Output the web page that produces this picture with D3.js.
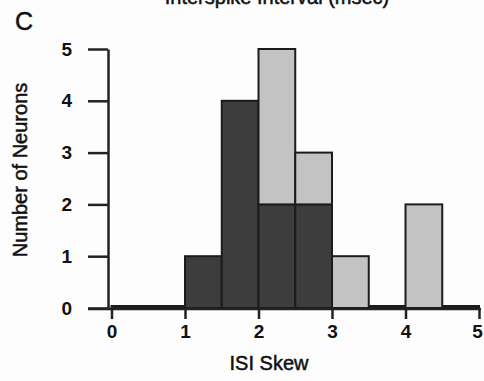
<!DOCTYPE html>
<html>
<head>
  <meta charset="utf-8">
  <title>ISI Skew histogram</title>
  <script src="https://d3js.org/d3.v7.min.js"></script>
  <style>
    body { margin: 0; background: #fdfdfd; }
    text { font-family: "Liberation Sans", Arial, sans-serif; fill: #111; }
    .heavy { stroke: #111; stroke-width: 0.5px; }
  </style>
</head>
<body>
  <div id="chart"></div>
  <script>
  // histogram bins (ISI skew), width 0.5
  var binStarts = [0, 0.5, 1, 1.5, 2, 2.5, 3, 3.5, 4, 4.5];
  var darkCounts = [0, 0, 1, 4, 2, 2, 0, 0, 0, 0];
  var lightCounts = [0, 0, 0, 0, 3, 1, 1, 0, 2, 0];
  var binWidth = 0.5;
  var xTicks = [0, 1, 2, 3, 4, 5];
  var yTicks = [0, 1, 2, 3, 4, 5];

  var W = 484, H = 381;
  var svg = d3.select("#chart").append("svg")
    .attr("width", W).attr("height", H);

  var x = d3.scaleLinear().domain([0, 5]).range([111.5, 479]);
  var y = d3.scaleLinear().domain([0, 5]).range([308, 49]);

  // cut-off title from panel above
  svg.append("text")
    .attr("x", 277).attr("y", 4)
    .attr("text-anchor", "middle")
    .attr("class", "heavy")
    .style("font-size", "20px")
    .text("Interspike Interval (msec)");

  // panel letter
  svg.append("text")
    .attr("x", 15).attr("y", 30)
    .attr("class", "heavy")
    .style("font-size", "25px")
    .text("C");

  var bins = binStarts.map(function (b, i) {
    return { x0: b, dark: darkCounts[i], light: lightCounts[i] };
  });

  // dark (bottom) segments; empty bins drawn as a flat outline
  svg.selectAll("rect.dark").data(bins).enter().append("rect")
    .attr("class", "dark")
    .attr("x", function (d) { return x(d.x0); })
    .attr("width", function (d) { return x(d.x0 + binWidth) - x(d.x0); })
    .attr("y", function (d) { return Math.min(y(d.dark), y(0) - 2); })
    .attr("height", function (d) { return Math.max(y(0) - y(d.dark), 2); })
    .attr("fill", "#3d3d3d")
    .attr("stroke", "#1c1c1c")
    .attr("stroke-width", 2);

  // light (stacked) segments
  svg.selectAll("rect.light").data(bins.filter(function (d) { return d.light > 0; }))
    .enter().append("rect")
    .attr("class", "light")
    .attr("x", function (d) { return x(d.x0); })
    .attr("width", function (d) { return x(d.x0 + binWidth) - x(d.x0); })
    .attr("y", function (d) { return y(d.dark + d.light); })
    .attr("height", function (d) { return y(d.dark) - y(d.dark + d.light); })
    .attr("fill", "#c3c3c3")
    .attr("stroke", "#1c1c1c")
    .attr("stroke-width", 2);

  // y axis
  var yAxis = svg.append("g")
    .attr("transform", "translate(108,0)")
    .call(d3.axisLeft(y).tickValues(yTicks).tickFormat(d3.format("d"))
      .tickSize(20).tickSizeOuter(0).tickPadding(16));
  yAxis.select(".domain").attr("stroke", "#222").attr("stroke-width", 2.5);
  yAxis.selectAll(".tick line").attr("stroke", "#222").attr("stroke-width", 2.5);
  yAxis.selectAll(".tick text")
    .style("font-size", "19px").style("font-weight", "bold")
    .attr("font-family", null).attr("fill", "#111");

  // x axis
  var xAxis = svg.append("g")
    .attr("transform", "translate(0,309)")
    .call(d3.axisBottom(x).tickValues(xTicks).tickFormat(d3.format("d"))
      .tickSize(10).tickSizeOuter(0).tickPadding(6));
  xAxis.select(".domain").attr("d", "M88,0H481").attr("stroke", "#222").attr("stroke-width", 2.5);
  xAxis.selectAll(".tick line").attr("stroke", "#222").attr("stroke-width", 2.5);
  xAxis.selectAll(".tick text")
    .style("font-size", "19px").style("font-weight", "bold")
    .attr("font-family", null).attr("fill", "#111");
  xAxis.selectAll(".tick text").filter(function (d) { return d === 5; }).attr("dx", -2);

  // axis titles
  svg.append("text")
    .attr("x", 269).attr("y", 370)
    .attr("text-anchor", "middle")
    .attr("class", "heavy")
    .style("font-size", "20px")
    .text("ISI Skew");

  svg.append("text")
    .attr("transform", "translate(27,170) rotate(-90)")
    .attr("text-anchor", "middle")
    .attr("class", "heavy")
    .style("font-size", "20px")
    .text("Number of Neurons");
  </script>
</body>
</html>
